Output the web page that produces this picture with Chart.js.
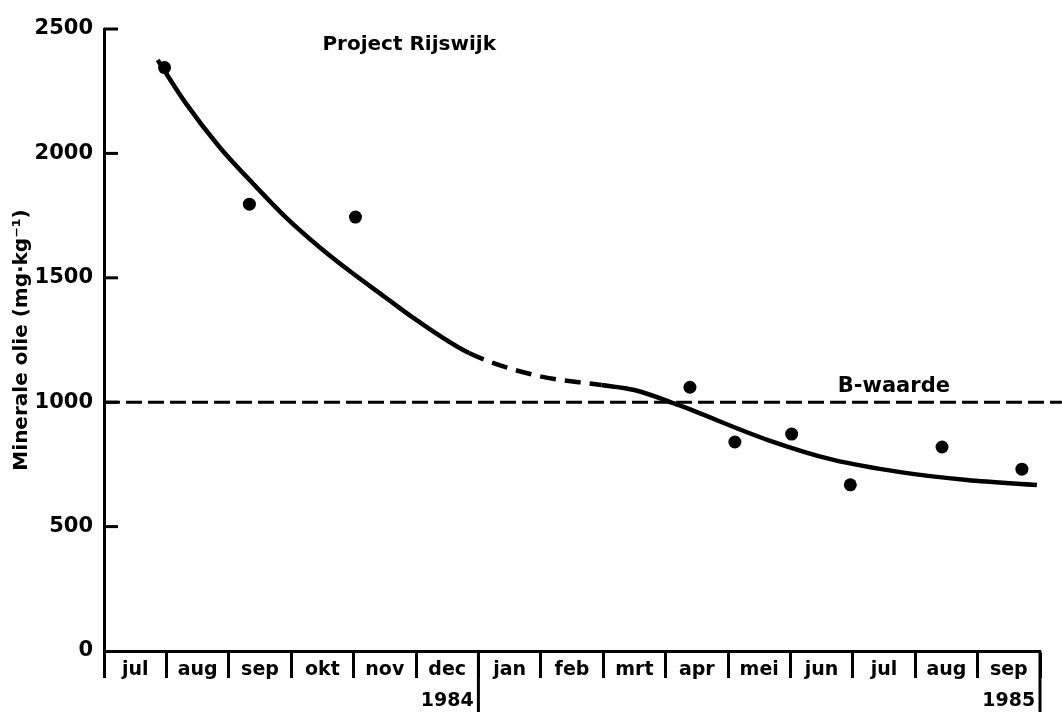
<!DOCTYPE html>
<html>
<head>
<meta charset="utf-8">
<script src="https://cdn.jsdelivr.net/npm/chart.js@4/dist/chart.umd.min.js"></script>
<style>
  body { margin: 0; background: #fff; }
  #wrap { width: 1062px; height: 714px; }
</style>
</head>
<body>
<div id="wrap"><canvas id="chartOlie"></canvas></div>
<script>
// months counted from start of jul 1984 (0) to end of sep 1985 (15)
const monthLabels = ['jul', 'aug', 'sep', 'okt', 'nov', ['dec', '1984'], 'jan', 'feb', 'mrt', 'apr', 'mei', 'jun', 'jul', 'aug', ['sep', '1985']];
const yearBounds = [6, 15];

// measured samples
const dotMonths = [0.97, 2.33, 4.03, 9.39, 10.11, 11.02, 11.96, 13.43, 14.71];
const dotValues = [2345, 1796, 1744, 1060, 840, 872, 668, 820, 731];

// fitted curve as drawn
const curveMonths = [0.86, 1.31, 1.85, 2.38, 2.91, 3.45, 3.98, 4.50, 4.94, 5.85, 6.90, 7.97, 8.50, 9.20, 10.64, 11.69, 12.76, 13.83, 14.95];
const curveValues = [2375, 2202, 2026, 1881, 1744, 1624, 1519, 1423, 1342, 1198, 1109, 1069, 1049, 989, 848, 768, 719, 687, 667];
const dashFrom = 5.8, dashTo = 8.0;

const bWaarde = 1000;
const bMonths = [0, 15.35];

const yMax = 2500, yStep = 500;

const FONT = "'DejaVu Sans', sans-serif";

const dots = dotMonths.map((m, i) => ({x: m, y: dotValues[i]}));
const curve = curveMonths.map((m, i) => ({x: m, y: curveValues[i]}));
const bLine = bMonths.map(m => ({x: m, y: bWaarde}));

const extras = {
  id: 'extras',
  afterDraw(chart) {
    const ctx = chart.ctx;
    const xs = chart.scales.x, ys = chart.scales.y;
    ctx.save();
    ctx.strokeStyle = '#000';
    ctx.lineWidth = 3;
    // inward y ticks
    for (let v = yStep; v <= yMax; v += yStep) {
      const py = ys.getPixelForValue(v);
      ctx.beginPath();
      ctx.moveTo(xs.left, py);
      ctx.lineTo(xs.left + 14, py);
      ctx.stroke();
    }
    // longer year marks
    yearBounds.forEach(m => {
      const px = xs.getPixelForValue(m);
      ctx.beginPath();
      ctx.moveTo(px, ys.bottom);
      ctx.lineTo(px, ys.bottom + 61);
      ctx.stroke();
    });
    ctx.fillStyle = '#000';
    ctx.textBaseline = 'middle';
    ctx.textAlign = 'left';
    ctx.font = 'bold 20px ' + FONT;
    ctx.fillText('Project Rijswijk', xs.getPixelForValue(3.5), ys.getPixelForValue(2435));
    ctx.font = 'bold 21px ' + FONT;
    ctx.fillText('B-waarde', xs.getPixelForValue(11.76), ys.getPixelForValue(1061));
    ctx.restore();
  }
};

const config = {
  type: 'scatter',
  data: {
    datasets: [
      {
        label: 'metingen',
        data: dots,
        pointRadius: 6.5,
        pointBackgroundColor: '#000',
        pointBorderWidth: 0,
        showLine: false,
      },
      {
        label: 'verloop',
        data: curve,
        showLine: true,
        pointRadius: 0,
        borderColor: '#000',
        borderWidth: 4.5,
        cubicInterpolationMode: 'monotone',
        segment: {
          borderDash: ctx => (ctx.p0.parsed.x >= dashFrom && ctx.p1.parsed.x <= dashTo) ? [16, 9] : undefined,
        },
      },
      {
        label: 'B-waarde',
        data: bLine,
        showLine: true,
        pointRadius: 0,
        borderColor: '#000',
        borderWidth: 3,
        borderDash: [16, 6],
        clip: false,
      },
    ]
  },
  options: {
    responsive: true,
    maintainAspectRatio: false,
    animation: false,
    layout: {
      padding: {top: 29, right: 22, left: 0, bottom: 0}
    },
    plugins: {
      legend: {display: false},
      tooltip: {enabled: false},
    },
    scales: {
      x: {
        type: 'linear',
        min: 0,
        max: 15,
        afterBuildTicks: (scale) => {
          const t = [];
          for (let v = 0; v <= 30; v++) t.push({value: v / 2});
          scale.ticks = t;
        },
        afterFit: (scale) => { scale.height = 63; },
        border: {display: true, color: '#000', width: 3},
        grid: {
          drawOnChartArea: false,
          tickLength: 27,
          tickWidth: 3,
          tickColor: (c) => (c.tick && c.tick.value % 1 === 0) ? '#000' : 'rgba(0,0,0,0)',
        },
        ticks: {
          autoSkip: false,
          maxRotation: 0,
          padding: -24,
          color: '#000',
          font: {family: FONT, size: 19, weight: 'bold', lineHeight: 1.65},
          callback: (v) => (v % 1 === 0.5) ? monthLabels[Math.floor(v)] : '',
        },
      },
      y: {
        min: 0,
        max: yMax,
        afterFit: (scale) => { scale.width = 104; },
        border: {display: true, color: '#000', width: 3},
        grid: {display: false},
        ticks: {
          stepSize: yStep,
          padding: 3,
          color: '#000',
          font: {family: FONT, size: 21, weight: 'bold'},
          callback: (v) => String(v),
        },
        title: {
          display: true,
          text: 'Minerale olie (mg·kg⁻¹)',
          color: '#000',
          padding: {top: 10, bottom: 0},
          font: {family: FONT, size: 20, weight: 'bold'},
        },
      },
    }
  },
  plugins: [extras],
};

new Chart(document.getElementById('chartOlie'), config);
</script>
</body>
</html>
